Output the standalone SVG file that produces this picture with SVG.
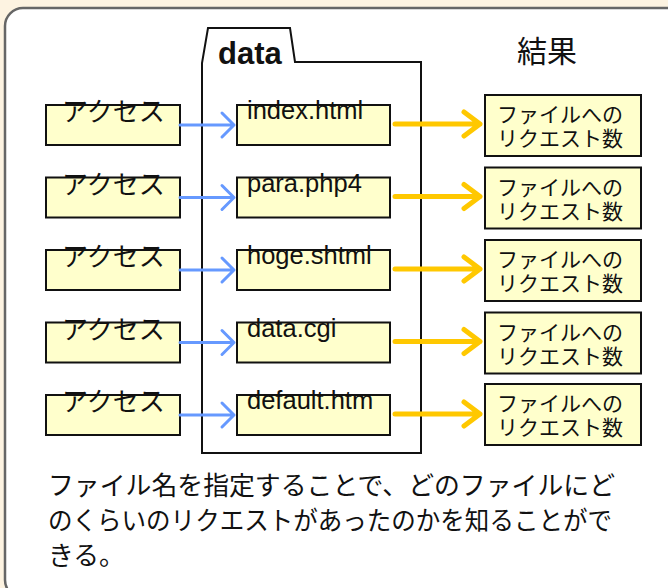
<svg xmlns="http://www.w3.org/2000/svg" width="668" height="588" viewBox="0 0 668 588">
<style>
.box{fill:#ffffcc;stroke:#111;stroke-width:2}
.jp{font-family:"Noto Sans CJK JP","Liberation Sans",sans-serif;fill:#111}
.en{font-family:"Liberation Sans","Noto Sans",sans-serif;fill:#111}
.blue{stroke:#6699ff;stroke-width:3;fill:none;stroke-linecap:round;stroke-linejoin:round}
.yel{stroke:#ffc800;stroke-width:5;fill:none;stroke-linecap:round;stroke-linejoin:round}
</style>
<rect x="0" y="0" width="668" height="588" fill="#fdf3e1"/>
<rect x="5" y="8" width="720" height="590" rx="18" fill="#fff" stroke="#666" stroke-width="2.5"/>
<g id="folder">
<path d="M202,453 V63 L208,28 H290 L295,62 H421 V453 Z" fill="#fff" stroke="#111" stroke-width="2"/>
<text class="en" x="218" y="64" font-size="31" font-weight="bold">data</text>
</g>
<g id="title"><text class="jp" x="517" y="62" font-size="30">結果</text></g>
<g id="access1"><rect class="box" x="46" y="105" width="134" height="40"/><text class="jp" x="62" y="121" font-size="26">アクセス</text></g>
<g id="access2"><rect class="box" x="46" y="177.5" width="134" height="40"/><text class="jp" x="62" y="193.5" font-size="26">アクセス</text></g>
<g id="access3"><rect class="box" x="46" y="250" width="134" height="40"/><text class="jp" x="62" y="266" font-size="26">アクセス</text></g>
<g id="access4"><rect class="box" x="46" y="322.5" width="134" height="40"/><text class="jp" x="62" y="338.5" font-size="26">アクセス</text></g>
<g id="access5"><rect class="box" x="46" y="395" width="134" height="40"/><text class="jp" x="62" y="411" font-size="26">アクセス</text></g>
<g id="file1"><rect class="box" x="237" y="105" width="153" height="40"/><text class="en" x="247" y="119" font-size="25.5">index.html</text></g>
<g id="file2"><rect class="box" x="237" y="177.5" width="153" height="40"/><text class="en" x="247" y="191.5" font-size="25.5">para.php4</text></g>
<g id="file3"><rect class="box" x="237" y="250" width="153" height="40"/><text class="en" x="247" y="264" font-size="25.5">hoge.shtml</text></g>
<g id="file4"><rect class="box" x="237" y="322.5" width="153" height="40"/><text class="en" x="247" y="336.5" font-size="25.5">data.cgi</text></g>
<g id="file5"><rect class="box" x="237" y="395" width="153" height="40"/><text class="en" x="247" y="409" font-size="25.5">default.htm</text></g>
<g id="result1"><rect class="box" x="485" y="95" width="156" height="61"/><text class="jp" x="497" y="122" font-size="21">ファイルへの</text><text class="jp" x="497" y="146" font-size="21">リクエスト数</text></g>
<g id="result2"><rect class="box" x="485" y="167.5" width="156" height="61"/><text class="jp" x="497" y="194.5" font-size="21">ファイルへの</text><text class="jp" x="497" y="218.5" font-size="21">リクエスト数</text></g>
<g id="result3"><rect class="box" x="485" y="240" width="156" height="61"/><text class="jp" x="497" y="267" font-size="21">ファイルへの</text><text class="jp" x="497" y="291" font-size="21">リクエスト数</text></g>
<g id="result4"><rect class="box" x="485" y="312.5" width="156" height="61"/><text class="jp" x="497" y="339.5" font-size="21">ファイルへの</text><text class="jp" x="497" y="363.5" font-size="21">リクエスト数</text></g>
<g id="result5"><rect class="box" x="485" y="384" width="156" height="61"/><text class="jp" x="497" y="411" font-size="21">ファイルへの</text><text class="jp" x="497" y="435" font-size="21">リクエスト数</text></g>
<g id="connectors">
<path class="blue" d="M180,125 H234 M222,113 L234,125 L222,137"/>
<path class="blue" d="M180,197.5 H234 M222,185.5 L234,197.5 L222,209.5"/>
<path class="blue" d="M180,270 H234 M222,258 L234,270 L222,282"/>
<path class="blue" d="M180,342.5 H234 M222,330.5 L234,342.5 L222,354.5"/>
<path class="blue" d="M180,415 H234 M222,403 L234,415 L222,427"/>
<path class="yel" d="M395,124 H480 M464,112 L480,124 L464,136"/>
<path class="yel" d="M395,196.5 H480 M464,184.5 L480,196.5 L464,208.5"/>
<path class="yel" d="M395,269 H480 M464,257 L480,269 L464,281"/>
<path class="yel" d="M395,341.5 H480 M464,329.5 L480,341.5 L464,353.5"/>
<path class="yel" d="M395,414 H480 M464,402 L480,414 L464,426"/>
</g>
<g id="caption">
<text class="jp" x="48" y="495" font-size="25.8" textLength="567" lengthAdjust="spacingAndGlyphs">ファイル名を指定することで、どのファイルにど</text>
<text class="jp" x="48" y="530" font-size="25.8" textLength="564" lengthAdjust="spacingAndGlyphs">のくらいのリクエストがあったのかを知ることがで</text>
<text class="jp" x="48" y="565" font-size="25.8">きる。</text>
</g>
</svg>
